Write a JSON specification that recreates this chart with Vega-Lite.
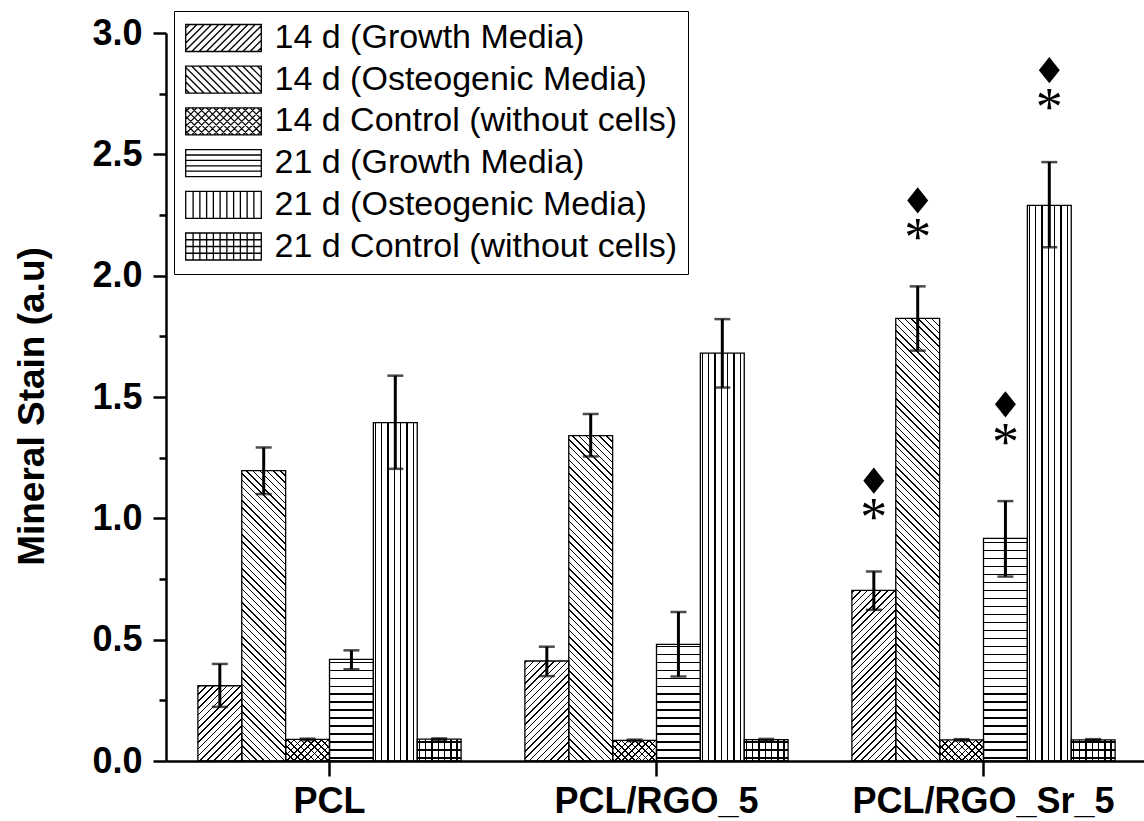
{
  "$schema": "https://vega.github.io/schema/vega-lite/v6.json",
  "width": 978,
  "height": 728,
  "autosize": {"type": "none"},
  "padding": {"left": 166, "top": 33, "right": 0, "bottom": 60},
  "background": "white",
  "config": {"view": {"stroke": null}, "font": "Liberation Sans"},
  "params": [
    {"name": "hatch", "value": [
{"offset":0.003,"color":"rgba(0,0,0,0)"},{"offset":0.003,"color":"#000"},{"offset":0.006,"color":"#000"},{"offset":0.006,"color":"rgba(0,0,0,0)"},
{"offset":0.0166,"color":"rgba(0,0,0,0)"},{"offset":0.0166,"color":"#000"},{"offset":0.0196,"color":"#000"},{"offset":0.0196,"color":"rgba(0,0,0,0)"},
{"offset":0.0302,"color":"rgba(0,0,0,0)"},{"offset":0.0302,"color":"#000"},{"offset":0.0332,"color":"#000"},{"offset":0.0332,"color":"rgba(0,0,0,0)"},
{"offset":0.0438,"color":"rgba(0,0,0,0)"},{"offset":0.0438,"color":"#000"},{"offset":0.0468,"color":"#000"},{"offset":0.0468,"color":"rgba(0,0,0,0)"},
{"offset":0.0574,"color":"rgba(0,0,0,0)"},{"offset":0.0574,"color":"#000"},{"offset":0.0604,"color":"#000"},{"offset":0.0604,"color":"rgba(0,0,0,0)"},
{"offset":0.071,"color":"rgba(0,0,0,0)"},{"offset":0.071,"color":"#000"},{"offset":0.074,"color":"#000"},{"offset":0.074,"color":"rgba(0,0,0,0)"},
{"offset":0.0846,"color":"rgba(0,0,0,0)"},{"offset":0.0846,"color":"#000"},{"offset":0.0876,"color":"#000"},{"offset":0.0876,"color":"rgba(0,0,0,0)"},
{"offset":0.0982,"color":"rgba(0,0,0,0)"},{"offset":0.0982,"color":"#000"},{"offset":0.1012,"color":"#000"},{"offset":0.1012,"color":"rgba(0,0,0,0)"},
{"offset":0.1118,"color":"rgba(0,0,0,0)"},{"offset":0.1118,"color":"#000"},{"offset":0.1148,"color":"#000"},{"offset":0.1148,"color":"rgba(0,0,0,0)"},
{"offset":0.1254,"color":"rgba(0,0,0,0)"},{"offset":0.1254,"color":"#000"},{"offset":0.1284,"color":"#000"},{"offset":0.1284,"color":"rgba(0,0,0,0)"},
{"offset":0.139,"color":"rgba(0,0,0,0)"},{"offset":0.139,"color":"#000"},{"offset":0.142,"color":"#000"},{"offset":0.142,"color":"rgba(0,0,0,0)"},
{"offset":0.1526,"color":"rgba(0,0,0,0)"},{"offset":0.1526,"color":"#000"},{"offset":0.1556,"color":"#000"},{"offset":0.1556,"color":"rgba(0,0,0,0)"},
{"offset":0.1662,"color":"rgba(0,0,0,0)"},{"offset":0.1662,"color":"#000"},{"offset":0.1692,"color":"#000"},{"offset":0.1692,"color":"rgba(0,0,0,0)"},
{"offset":0.1798,"color":"rgba(0,0,0,0)"},{"offset":0.1798,"color":"#000"},{"offset":0.1828,"color":"#000"},{"offset":0.1828,"color":"rgba(0,0,0,0)"},
{"offset":0.1934,"color":"rgba(0,0,0,0)"},{"offset":0.1934,"color":"#000"},{"offset":0.1964,"color":"#000"},{"offset":0.1964,"color":"rgba(0,0,0,0)"},
{"offset":0.207,"color":"rgba(0,0,0,0)"},{"offset":0.207,"color":"#000"},{"offset":0.21,"color":"#000"},{"offset":0.21,"color":"rgba(0,0,0,0)"},
{"offset":0.2206,"color":"rgba(0,0,0,0)"},{"offset":0.2206,"color":"#000"},{"offset":0.2236,"color":"#000"},{"offset":0.2236,"color":"rgba(0,0,0,0)"},
{"offset":0.2342,"color":"rgba(0,0,0,0)"},{"offset":0.2342,"color":"#000"},{"offset":0.2372,"color":"#000"},{"offset":0.2372,"color":"rgba(0,0,0,0)"},
{"offset":0.2478,"color":"rgba(0,0,0,0)"},{"offset":0.2478,"color":"#000"},{"offset":0.2508,"color":"#000"},{"offset":0.2508,"color":"rgba(0,0,0,0)"},
{"offset":0.2614,"color":"rgba(0,0,0,0)"},{"offset":0.2614,"color":"#000"},{"offset":0.2644,"color":"#000"},{"offset":0.2644,"color":"rgba(0,0,0,0)"},
{"offset":0.275,"color":"rgba(0,0,0,0)"},{"offset":0.275,"color":"#000"},{"offset":0.278,"color":"#000"},{"offset":0.278,"color":"rgba(0,0,0,0)"},
{"offset":0.2886,"color":"rgba(0,0,0,0)"},{"offset":0.2886,"color":"#000"},{"offset":0.2916,"color":"#000"},{"offset":0.2916,"color":"rgba(0,0,0,0)"},
{"offset":0.3022,"color":"rgba(0,0,0,0)"},{"offset":0.3022,"color":"#000"},{"offset":0.3052,"color":"#000"},{"offset":0.3052,"color":"rgba(0,0,0,0)"},
{"offset":0.3158,"color":"rgba(0,0,0,0)"},{"offset":0.3158,"color":"#000"},{"offset":0.3188,"color":"#000"},{"offset":0.3188,"color":"rgba(0,0,0,0)"},
{"offset":0.3294,"color":"rgba(0,0,0,0)"},{"offset":0.3294,"color":"#000"},{"offset":0.3324,"color":"#000"},{"offset":0.3324,"color":"rgba(0,0,0,0)"},
{"offset":0.343,"color":"rgba(0,0,0,0)"},{"offset":0.343,"color":"#000"},{"offset":0.346,"color":"#000"},{"offset":0.346,"color":"rgba(0,0,0,0)"},
{"offset":0.3566,"color":"rgba(0,0,0,0)"},{"offset":0.3566,"color":"#000"},{"offset":0.3596,"color":"#000"},{"offset":0.3596,"color":"rgba(0,0,0,0)"},
{"offset":0.3702,"color":"rgba(0,0,0,0)"},{"offset":0.3702,"color":"#000"},{"offset":0.3732,"color":"#000"},{"offset":0.3732,"color":"rgba(0,0,0,0)"},
{"offset":0.3838,"color":"rgba(0,0,0,0)"},{"offset":0.3838,"color":"#000"},{"offset":0.3868,"color":"#000"},{"offset":0.3868,"color":"rgba(0,0,0,0)"},
{"offset":0.3974,"color":"rgba(0,0,0,0)"},{"offset":0.3974,"color":"#000"},{"offset":0.4004,"color":"#000"},{"offset":0.4004,"color":"rgba(0,0,0,0)"},
{"offset":0.411,"color":"rgba(0,0,0,0)"},{"offset":0.411,"color":"#000"},{"offset":0.414,"color":"#000"},{"offset":0.414,"color":"rgba(0,0,0,0)"},
{"offset":0.4246,"color":"rgba(0,0,0,0)"},{"offset":0.4246,"color":"#000"},{"offset":0.4276,"color":"#000"},{"offset":0.4276,"color":"rgba(0,0,0,0)"},
{"offset":0.4382,"color":"rgba(0,0,0,0)"},{"offset":0.4382,"color":"#000"},{"offset":0.4412,"color":"#000"},{"offset":0.4412,"color":"rgba(0,0,0,0)"},
{"offset":0.4518,"color":"rgba(0,0,0,0)"},{"offset":0.4518,"color":"#000"},{"offset":0.4548,"color":"#000"},{"offset":0.4548,"color":"rgba(0,0,0,0)"},
{"offset":0.4654,"color":"rgba(0,0,0,0)"},{"offset":0.4654,"color":"#000"},{"offset":0.4684,"color":"#000"},{"offset":0.4684,"color":"rgba(0,0,0,0)"},
{"offset":0.479,"color":"rgba(0,0,0,0)"},{"offset":0.479,"color":"#000"},{"offset":0.482,"color":"#000"},{"offset":0.482,"color":"rgba(0,0,0,0)"},
{"offset":0.4926,"color":"rgba(0,0,0,0)"},{"offset":0.4926,"color":"#000"},{"offset":0.4956,"color":"#000"},{"offset":0.4956,"color":"rgba(0,0,0,0)"},
{"offset":0.5062,"color":"rgba(0,0,0,0)"},{"offset":0.5062,"color":"#000"},{"offset":0.5092,"color":"#000"},{"offset":0.5092,"color":"rgba(0,0,0,0)"},
{"offset":0.5198,"color":"rgba(0,0,0,0)"},{"offset":0.5198,"color":"#000"},{"offset":0.5228,"color":"#000"},{"offset":0.5228,"color":"rgba(0,0,0,0)"},
{"offset":0.5334,"color":"rgba(0,0,0,0)"},{"offset":0.5334,"color":"#000"},{"offset":0.5364,"color":"#000"},{"offset":0.5364,"color":"rgba(0,0,0,0)"},
{"offset":0.547,"color":"rgba(0,0,0,0)"},{"offset":0.547,"color":"#000"},{"offset":0.55,"color":"#000"},{"offset":0.55,"color":"rgba(0,0,0,0)"},
{"offset":0.5606,"color":"rgba(0,0,0,0)"},{"offset":0.5606,"color":"#000"},{"offset":0.5636,"color":"#000"},{"offset":0.5636,"color":"rgba(0,0,0,0)"},
{"offset":0.5742,"color":"rgba(0,0,0,0)"},{"offset":0.5742,"color":"#000"},{"offset":0.5772,"color":"#000"},{"offset":0.5772,"color":"rgba(0,0,0,0)"},
{"offset":0.5878,"color":"rgba(0,0,0,0)"},{"offset":0.5878,"color":"#000"},{"offset":0.5908,"color":"#000"},{"offset":0.5908,"color":"rgba(0,0,0,0)"},
{"offset":0.6014,"color":"rgba(0,0,0,0)"},{"offset":0.6014,"color":"#000"},{"offset":0.6044,"color":"#000"},{"offset":0.6044,"color":"rgba(0,0,0,0)"},
{"offset":0.615,"color":"rgba(0,0,0,0)"},{"offset":0.615,"color":"#000"},{"offset":0.618,"color":"#000"},{"offset":0.618,"color":"rgba(0,0,0,0)"},
{"offset":0.6286,"color":"rgba(0,0,0,0)"},{"offset":0.6286,"color":"#000"},{"offset":0.6316,"color":"#000"},{"offset":0.6316,"color":"rgba(0,0,0,0)"},
{"offset":0.6422,"color":"rgba(0,0,0,0)"},{"offset":0.6422,"color":"#000"},{"offset":0.6452,"color":"#000"},{"offset":0.6452,"color":"rgba(0,0,0,0)"},
{"offset":0.6558,"color":"rgba(0,0,0,0)"},{"offset":0.6558,"color":"#000"},{"offset":0.6588,"color":"#000"},{"offset":0.6588,"color":"rgba(0,0,0,0)"},
{"offset":0.6694,"color":"rgba(0,0,0,0)"},{"offset":0.6694,"color":"#000"},{"offset":0.6724,"color":"#000"},{"offset":0.6724,"color":"rgba(0,0,0,0)"},
{"offset":0.683,"color":"rgba(0,0,0,0)"},{"offset":0.683,"color":"#000"},{"offset":0.686,"color":"#000"},{"offset":0.686,"color":"rgba(0,0,0,0)"},
{"offset":0.6966,"color":"rgba(0,0,0,0)"},{"offset":0.6966,"color":"#000"},{"offset":0.6996,"color":"#000"},{"offset":0.6996,"color":"rgba(0,0,0,0)"},
{"offset":0.7102,"color":"rgba(0,0,0,0)"},{"offset":0.7102,"color":"#000"},{"offset":0.7132,"color":"#000"},{"offset":0.7132,"color":"rgba(0,0,0,0)"},
{"offset":0.7238,"color":"rgba(0,0,0,0)"},{"offset":0.7238,"color":"#000"},{"offset":0.7268,"color":"#000"},{"offset":0.7268,"color":"rgba(0,0,0,0)"},
{"offset":0.7374,"color":"rgba(0,0,0,0)"},{"offset":0.7374,"color":"#000"},{"offset":0.7404,"color":"#000"},{"offset":0.7404,"color":"rgba(0,0,0,0)"},
{"offset":0.751,"color":"rgba(0,0,0,0)"},{"offset":0.751,"color":"#000"},{"offset":0.754,"color":"#000"},{"offset":0.754,"color":"rgba(0,0,0,0)"},
{"offset":0.7646,"color":"rgba(0,0,0,0)"},{"offset":0.7646,"color":"#000"},{"offset":0.7676,"color":"#000"},{"offset":0.7676,"color":"rgba(0,0,0,0)"},
{"offset":0.7782,"color":"rgba(0,0,0,0)"},{"offset":0.7782,"color":"#000"},{"offset":0.7812,"color":"#000"},{"offset":0.7812,"color":"rgba(0,0,0,0)"},
{"offset":0.7918,"color":"rgba(0,0,0,0)"},{"offset":0.7918,"color":"#000"},{"offset":0.7948,"color":"#000"},{"offset":0.7948,"color":"rgba(0,0,0,0)"},
{"offset":0.8054,"color":"rgba(0,0,0,0)"},{"offset":0.8054,"color":"#000"},{"offset":0.8084,"color":"#000"},{"offset":0.8084,"color":"rgba(0,0,0,0)"},
{"offset":0.819,"color":"rgba(0,0,0,0)"},{"offset":0.819,"color":"#000"},{"offset":0.822,"color":"#000"},{"offset":0.822,"color":"rgba(0,0,0,0)"},
{"offset":0.8326,"color":"rgba(0,0,0,0)"},{"offset":0.8326,"color":"#000"},{"offset":0.8356,"color":"#000"},{"offset":0.8356,"color":"rgba(0,0,0,0)"},
{"offset":0.8462,"color":"rgba(0,0,0,0)"},{"offset":0.8462,"color":"#000"},{"offset":0.8492,"color":"#000"},{"offset":0.8492,"color":"rgba(0,0,0,0)"},
{"offset":0.8598,"color":"rgba(0,0,0,0)"},{"offset":0.8598,"color":"#000"},{"offset":0.8628,"color":"#000"},{"offset":0.8628,"color":"rgba(0,0,0,0)"},
{"offset":0.8734,"color":"rgba(0,0,0,0)"},{"offset":0.8734,"color":"#000"},{"offset":0.8764,"color":"#000"},{"offset":0.8764,"color":"rgba(0,0,0,0)"},
{"offset":0.887,"color":"rgba(0,0,0,0)"},{"offset":0.887,"color":"#000"},{"offset":0.89,"color":"#000"},{"offset":0.89,"color":"rgba(0,0,0,0)"},
{"offset":0.9006,"color":"rgba(0,0,0,0)"},{"offset":0.9006,"color":"#000"},{"offset":0.9036,"color":"#000"},{"offset":0.9036,"color":"rgba(0,0,0,0)"},
{"offset":0.9142,"color":"rgba(0,0,0,0)"},{"offset":0.9142,"color":"#000"},{"offset":0.9172,"color":"#000"},{"offset":0.9172,"color":"rgba(0,0,0,0)"},
{"offset":0.9278,"color":"rgba(0,0,0,0)"},{"offset":0.9278,"color":"#000"},{"offset":0.9308,"color":"#000"},{"offset":0.9308,"color":"rgba(0,0,0,0)"},
{"offset":0.9414,"color":"rgba(0,0,0,0)"},{"offset":0.9414,"color":"#000"},{"offset":0.9444,"color":"#000"},{"offset":0.9444,"color":"rgba(0,0,0,0)"},
{"offset":0.955,"color":"rgba(0,0,0,0)"},{"offset":0.955,"color":"#000"},{"offset":0.958,"color":"#000"},{"offset":0.958,"color":"rgba(0,0,0,0)"},
{"offset":0.9686,"color":"rgba(0,0,0,0)"},{"offset":0.9686,"color":"#000"},{"offset":0.9716,"color":"#000"},{"offset":0.9716,"color":"rgba(0,0,0,0)"},
{"offset":0.9822,"color":"rgba(0,0,0,0)"},{"offset":0.9822,"color":"#000"},{"offset":0.9852,"color":"#000"},{"offset":0.9852,"color":"rgba(0,0,0,0)"}
    ]}
  ],
  "datasets": {
    "bars": [
      {"group": "PCL", "series": "14 d (Growth Media)", "mean": 0.31, "lo": 0.223, "hi": 0.40},
      {"group": "PCL", "series": "14 d (Osteogenic Media)", "mean": 1.197, "lo": 1.10, "hi": 1.292},
      {"group": "PCL", "series": "14 d Control (without cells)", "mean": 0.089, "lo": 0.086, "hi": 0.092},
      {"group": "PCL", "series": "21 d (Growth Media)", "mean": 0.419, "lo": 0.378, "hi": 0.456},
      {"group": "PCL", "series": "21 d (Osteogenic Media)", "mean": 1.394, "lo": 1.204, "hi": 1.588},
      {"group": "PCL", "series": "21 d Control (without cells)", "mean": 0.09, "lo": 0.087, "hi": 0.093},
      {"group": "PCL/RGO_5", "series": "14 d (Growth Media)", "mean": 0.412, "lo": 0.35, "hi": 0.471},
      {"group": "PCL/RGO_5", "series": "14 d (Osteogenic Media)", "mean": 1.341, "lo": 1.255, "hi": 1.43},
      {"group": "PCL/RGO_5", "series": "14 d Control (without cells)", "mean": 0.085, "lo": 0.082, "hi": 0.088},
      {"group": "PCL/RGO_5", "series": "21 d (Growth Media)", "mean": 0.481, "lo": 0.348, "hi": 0.614},
      {"group": "PCL/RGO_5", "series": "21 d (Osteogenic Media)", "mean": 1.681, "lo": 1.539, "hi": 1.821},
      {"group": "PCL/RGO_5", "series": "21 d Control (without cells)", "mean": 0.088, "lo": 0.085, "hi": 0.091},
      {"group": "PCL/RGO_Sr_5", "series": "14 d (Growth Media)", "mean": 0.703, "lo": 0.623, "hi": 0.781},
      {"group": "PCL/RGO_Sr_5", "series": "14 d (Osteogenic Media)", "mean": 1.824, "lo": 1.691, "hi": 1.956},
      {"group": "PCL/RGO_Sr_5", "series": "14 d Control (without cells)", "mean": 0.087, "lo": 0.084, "hi": 0.09},
      {"group": "PCL/RGO_Sr_5", "series": "21 d (Growth Media)", "mean": 0.917, "lo": 0.76, "hi": 1.071},
      {"group": "PCL/RGO_Sr_5", "series": "21 d (Osteogenic Media)", "mean": 2.29, "lo": 2.117, "hi": 2.468},
      {"group": "PCL/RGO_Sr_5", "series": "21 d Control (without cells)", "mean": 0.087, "lo": 0.084, "hi": 0.09}
    ],
    "marks": [
      {"group": "PCL/RGO_Sr_5", "series": "14 d (Growth Media)", "ast": 1.035, "dia": 1.155},
      {"group": "PCL/RGO_Sr_5", "series": "14 d (Osteogenic Media)", "ast": 2.19, "dia": 2.31},
      {"group": "PCL/RGO_Sr_5", "series": "21 d (Growth Media)", "ast": 1.345, "dia": 1.47},
      {"group": "PCL/RGO_Sr_5", "series": "21 d (Osteogenic Media)", "ast": 2.724, "dia": 2.847}
    ]
  },
  "data": {"name": "bars"},
  "encoding": {
    "x": {
      "field": "group", "type": "nominal",
      "sort": ["PCL", "PCL/RGO_5", "PCL/RGO_Sr_5"],
      "scale": {"paddingInner": 0, "paddingOuter": 0, "rangeMax": 981},
      "axis": {
        "title": null, "labelAngle": 0, "labelLimit": 0,
        "labelFont": "Liberation Sans", "labelFontSize": 36, "labelFontWeight": "bold", "labelColor": "black",
        "labelPadding": 8, "tickSize": 15, "tickWidth": 2.5, "tickColor": "black",
        "domainColor": "black", "domainWidth": 2.5, "grid": false
      }
    },
    "xOffset": {
      "field": "series", "type": "nominal",
      "scale": {
        "domain": ["14 d (Growth Media)", "14 d (Osteogenic Media)", "14 d Control (without cells)", "21 d (Growth Media)", "21 d (Osteogenic Media)", "21 d Control (without cells)"],
        "paddingInner": 0, "paddingOuter": 0.727
      }
    },
    "y": {
      "field": "mean", "type": "quantitative",
      "scale": {"domain": [0, 3], "nice": false},
      "title": "Mineral Stain (a.u)",
      "axis": {
        "titleFont": "Liberation Sans", "titleFontSize": 37, "titleFontWeight": "bold", "titleColor": "black",
        "titlePadding": 40, "titleY": 373,
        "values": [0, 0.25, 0.5, 0.75, 1, 1.25, 1.5, 1.75, 2, 2.25, 2.5, 2.75, 3],
        "labelExpr": "datum.value % 0.5 == 0 ? format(datum.value, '.1f') : ''",
        "labelFont": "Liberation Sans", "labelFontSize": 36, "labelFontWeight": "bold", "labelColor": "black",
        "labelPadding": 11, "labelOverlap": false, "labelFlush": false,
        "tickSize": {"condition": {"test": "datum.value % 0.5 != 0", "value": 7}, "value": 13},
        "tickWidth": 2.5, "tickColor": "black",
        "domainColor": "black", "domainWidth": 2.5, "grid": false
      }
    }
  },
  "layer": [
    {
      "transform": [{"filter": {"field": "series", "oneOf": ["14 d (Growth Media)", "14 d Control (without cells)"]}}],
      "mark": {"type": "bar", "fill": {"expr": "{gradient:'linear',x1:0,y1:0,x2:bandwidth('xOffset')*500/(pow(bandwidth('xOffset'),2)+pow(scale('y',0)-scale('y',datum.mean),2)),y2:(scale('y',0)-scale('y',datum.mean))*500/(pow(bandwidth('xOffset'),2)+pow(scale('y',0)-scale('y',datum.mean),2)),stops:hatch}"}}
    },
    {
      "transform": [{"filter": {"field": "series", "oneOf": ["14 d (Osteogenic Media)", "14 d Control (without cells)"]}}],
      "mark": {"type": "bar", "fill": {"expr": "{gradient:'linear',x1:0,y1:1,x2:bandwidth('xOffset')*500/(pow(bandwidth('xOffset'),2)+pow(scale('y',0)-scale('y',datum.mean),2)),y2:1-(scale('y',0)-scale('y',datum.mean))*500/(pow(bandwidth('xOffset'),2)+pow(scale('y',0)-scale('y',datum.mean),2)),stops:hatch}"}}
    },
    {
      "transform": [{"filter": {"field": "series", "oneOf": ["21 d (Growth Media)", "21 d Control (without cells)"]}}],
      "mark": {"type": "bar", "fill": {"expr": "{gradient:'linear',x1:0,y1:1,x2:0,y2:1-588/(scale('y',0)-scale('y',datum.mean)),stops:hatch}"}}
    },
    {
      "transform": [{"filter": {"field": "series", "oneOf": ["21 d (Osteogenic Media)", "21 d Control (without cells)"]}}],
      "mark": {"type": "bar", "fill": {"expr": "{gradient:'linear',x1:0,y1:0,x2:463/bandwidth('xOffset'),y2:0,stops:hatch}"}}
    },
    {
      "mark": {"type": "bar", "fillOpacity": 0, "stroke": "black", "strokeWidth": 1.3}
    },
    {
      "mark": {"type": "rule", "color": "black", "strokeWidth": 3},
      "encoding": {
        "y": {"field": "lo", "type": "quantitative", "scale": {"domain": [0, 3], "nice": false}, "title": "Mineral Stain (a.u)"},
        "y2": {"field": "hi"}
      }
    },
    {
      "mark": {"type": "tick", "color": "black", "size": 16, "thickness": 2.5},
      "encoding": {"y": {"field": "lo", "type": "quantitative", "scale": {"domain": [0, 3], "nice": false}, "title": "Mineral Stain (a.u)"}}
    },
    {
      "mark": {"type": "tick", "color": "black", "size": 16, "thickness": 2.5},
      "encoding": {"y": {"field": "hi", "type": "quantitative", "scale": {"domain": [0, 3], "nice": false}, "title": "Mineral Stain (a.u)"}}
    },
    {
      "mark": {"type": "point", "filled": false, "color": "black", "opacity": 0, "size": 729},
      "encoding": {
        "shape": {
          "field": "series", "type": "nominal",
          "scale": {
            "domain": ["14 d (Growth Media)", "14 d (Osteogenic Media)", "14 d Control (without cells)", "21 d (Growth Media)", "21 d (Osteogenic Media)", "21 d Control (without cells)"],
            "range": [
              "M-2.8,-1H2.8V1H-2.8ZM-2.8,-0.71L-2.51,-1M-2.8,-0.17L-1.97,-1M-2.8,0.37L-1.43,-1M-2.8,0.91L-0.89,-1M-2.35,1L-0.35,-1M-1.81,1L0.19,-1M-1.27,1L0.73,-1M-0.73,1L1.27,-1M-0.19,1L1.81,-1M0.35,1L2.35,-1M0.89,1L2.8,-0.91M1.43,1L2.8,-0.37M1.97,1L2.8,0.17M2.51,1L2.8,0.71",
              "M-2.8,-1H2.8V1H-2.8ZM-2.8,0.71L-2.51,1M-2.8,0.17L-1.97,1M-2.8,-0.37L-1.43,1M-2.8,-0.91L-0.89,1M-2.35,-1L-0.35,1M-1.81,-1L0.19,1M-1.27,-1L0.73,1M-0.73,-1L1.27,1M-0.19,-1L1.81,1M0.35,-1L2.35,1M0.89,-1L2.8,0.91M1.43,-1L2.8,0.37M1.97,-1L2.8,-0.17M2.51,-1L2.8,-0.71",
              "M-2.8,-1H2.8V1H-2.8ZM-2.8,-0.71L-2.51,-1M-2.8,-0.17L-1.97,-1M-2.8,0.37L-1.43,-1M-2.8,0.91L-0.89,-1M-2.35,1L-0.35,-1M-1.81,1L0.19,-1M-1.27,1L0.73,-1M-0.73,1L1.27,-1M-0.19,1L1.81,-1M0.35,1L2.35,-1M0.89,1L2.8,-0.91M1.43,1L2.8,-0.37M1.97,1L2.8,0.17M2.51,1L2.8,0.71M-2.8,0.71L-2.51,1M-2.8,0.17L-1.97,1M-2.8,-0.37L-1.43,1M-2.8,-0.91L-0.89,1M-2.35,-1L-0.35,1M-1.81,-1L0.19,1M-1.27,-1L0.73,1M-0.73,-1L1.27,1M-0.19,-1L1.81,1M0.35,-1L2.35,1M0.89,-1L2.8,0.91M1.43,-1L2.8,0.37M1.97,-1L2.8,-0.17M2.51,-1L2.8,-0.71",
              "M-2.8,-1H2.8V1H-2.8ZM-2.8,-0.6H2.8M-2.8,-0.2H2.8M-2.8,0.2H2.8M-2.8,0.6H2.8",
              "M-2.8,-1H2.8V1H-2.8ZM-2.25,-1V1M-1.75,-1V1M-1.25,-1V1M-0.75,-1V1M-0.25,-1V1M0.25,-1V1M0.75,-1V1M1.25,-1V1M1.75,-1V1M2.25,-1V1",
              "M-2.8,-1H2.8V1H-2.8ZM-2.25,-1V1M-1.75,-1V1M-1.25,-1V1M-0.75,-1V1M-0.25,-1V1M0.25,-1V1M0.75,-1V1M1.25,-1V1M1.75,-1V1M2.25,-1V1M-2.8,-0.5H2.8M-2.8,0H2.8M-2.8,0.5H2.8"
            ]
          },
          "legend": {
            "title": null, "orient": "none", "legendX": 8, "legendY": -22,
            "padding": 10, "strokeColor": "black", "fillColor": "white",
            "labelFont": "Liberation Sans", "labelFontSize": 34, "labelColor": "black", "labelLimit": 0,
            "labelOffset": 34, "symbolOffset": 22.5, "symbolSize": 729,
            "symbolStrokeWidth": 1.3, "symbolStrokeColor": "black", "symbolFillColor": "white", "symbolOpacity": 1,
            "rowPadding": 7.7
          }
        }
      }
    },
    {
      "data": {"name": "marks"},
      "mark": {"type": "point", "shape": "M0,-1.25L1,0L0,1.25L-1,0Z", "size": 440, "filled": true, "color": "black", "opacity": 1},
      "encoding": {"y": {"field": "dia", "type": "quantitative", "scale": {"domain": [0, 3], "nice": false}, "title": "Mineral Stain (a.u)"}}
    },
    {
      "data": {"name": "marks"},
      "mark": {"type": "text", "text": "*", "font": "Liberation Serif", "fontSize": 54, "baseline": "alphabetic", "align": "center", "dy": 25, "color": "black"},
      "encoding": {"y": {"field": "ast", "type": "quantitative", "scale": {"domain": [0, 3], "nice": false}, "title": "Mineral Stain (a.u)"}}
    }
  ]
}
